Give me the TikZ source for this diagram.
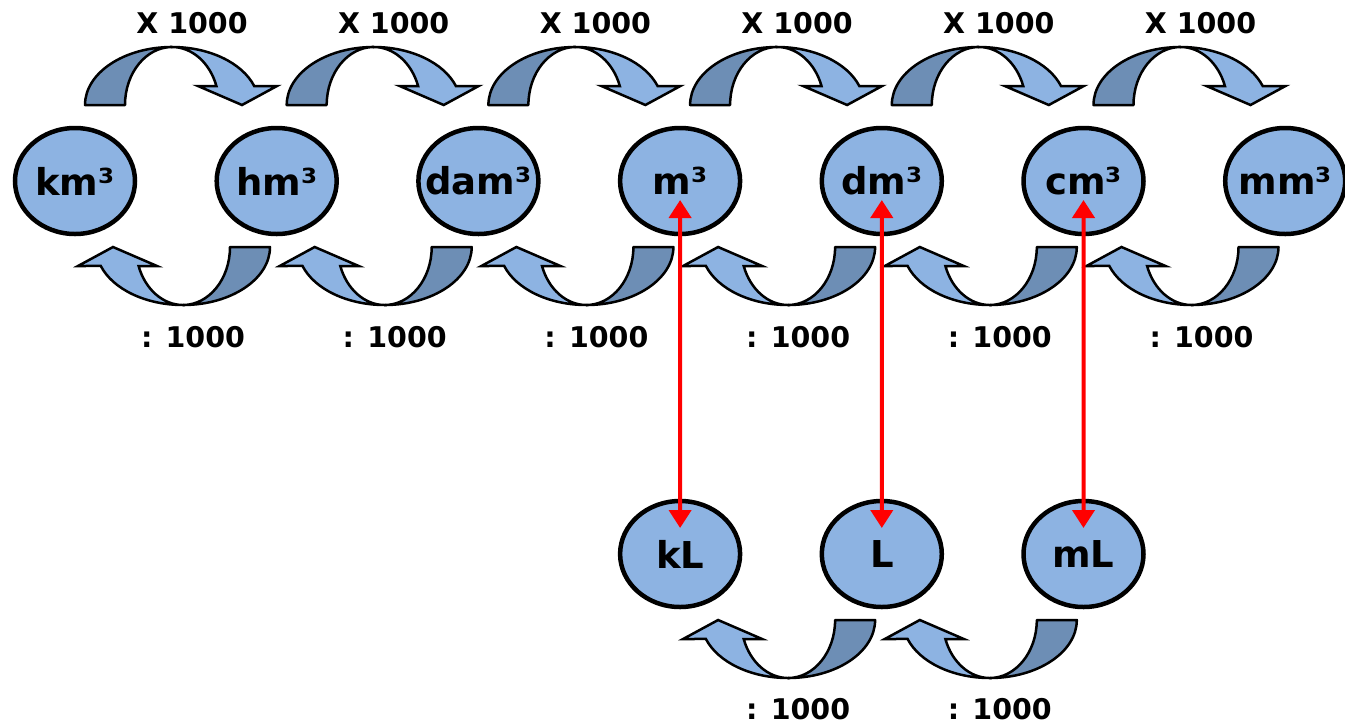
\documentclass[tikz,border=0pt]{standalone}
\usepackage{fontspec}
\setmainfont{DejaVu Sans}
\usetikzlibrary{shapes.geometric,arrows.meta}
\definecolor{lightb}{RGB}{141,179,226}
\definecolor{darkb}{RGB}{109,142,181}
\begin{document}
\begin{tikzpicture}[x=1pt,y=1pt,
  unit/.style={ellipse,draw=black,line width=4.5pt,fill=lightb,minimum width=120pt,minimum height=106pt,inner sep=0pt,font=\fontsize{37}{40}\selectfont\bfseries},
  lbl/.style={font=\fontsize{28.5}{30}\selectfont\bfseries,inner sep=0pt},
  conv/.style={red,line width=4pt,{Triangle[width=22pt,length=18pt]}-{Triangle[width=22pt,length=18pt]}},
  curvearrow/.pic={
    \draw[line width=2.5pt,fill=darkb,line join=round] (-87,-58) arc[start angle=180,end angle=90,x radius=87,y radius=58] arc[start angle=90,end angle=180,x radius=47,y radius=58] -- cycle;
    \draw[line width=2.5pt,fill=lightb,line join=miter] (0,0) arc[start angle=90,end angle=19.1,x radius=87,y radius=58] -- (105,-39) -- (70,-58) -- (26,-39) -- (44.4,-39) arc[start angle=19.1,end angle=90,x radius=47,y radius=58] -- cycle;
  }
]
\useasboundingbox (0,0) rectangle (1345,-724);
% curved arrows, top row
\foreach \i in {0,...,5}{
  \pic at ({172+201.7*\i},-47) {curvearrow};
  \pic[rotate=180] at ({183+201.7*\i},-305) {curvearrow};
  \node[lbl] (xl\i) at ({192+201.7*\i},-23) {X 1000};
  \node[lbl] (dl\i) at ({193+201.7*\i},-337) {: 1000};
}
% curved arrows, bottom row
\foreach \i in {3,4}{
  \pic[rotate=180] at ({183+201.7*\i},-678) {curvearrow};
  \node[lbl] (bl\i) at ({193+201.7*\i},-709) {: 1000};
}
% units
\foreach \n/\t [count=\i from 0] in {km3/km³,hm3/hm³,dam3/dam³,m3/m³,dm3/dm³,cm3/cm³,mm3/mm³}{
  \node[unit] (\n) at ({75+201.7*\i},-181) {\makebox[0pt]{\t}};
}
\node[unit] (kL) at (680.1,-554) {kL};
\node[unit] (L) at (881.8,-554) {L};
\node[unit] (mL) at (1083.5,-554) {mL};
% equivalences
\draw[conv,shorten <=19pt,shorten >=26pt] (m3.center) -- (kL.center);
\draw[conv,shorten <=19pt,shorten >=26pt] (dm3.center) -- (L.center);
\draw[conv,shorten <=19pt,shorten >=26pt] (cm3.center) -- (mL.center);
\end{tikzpicture}
\end{document}
